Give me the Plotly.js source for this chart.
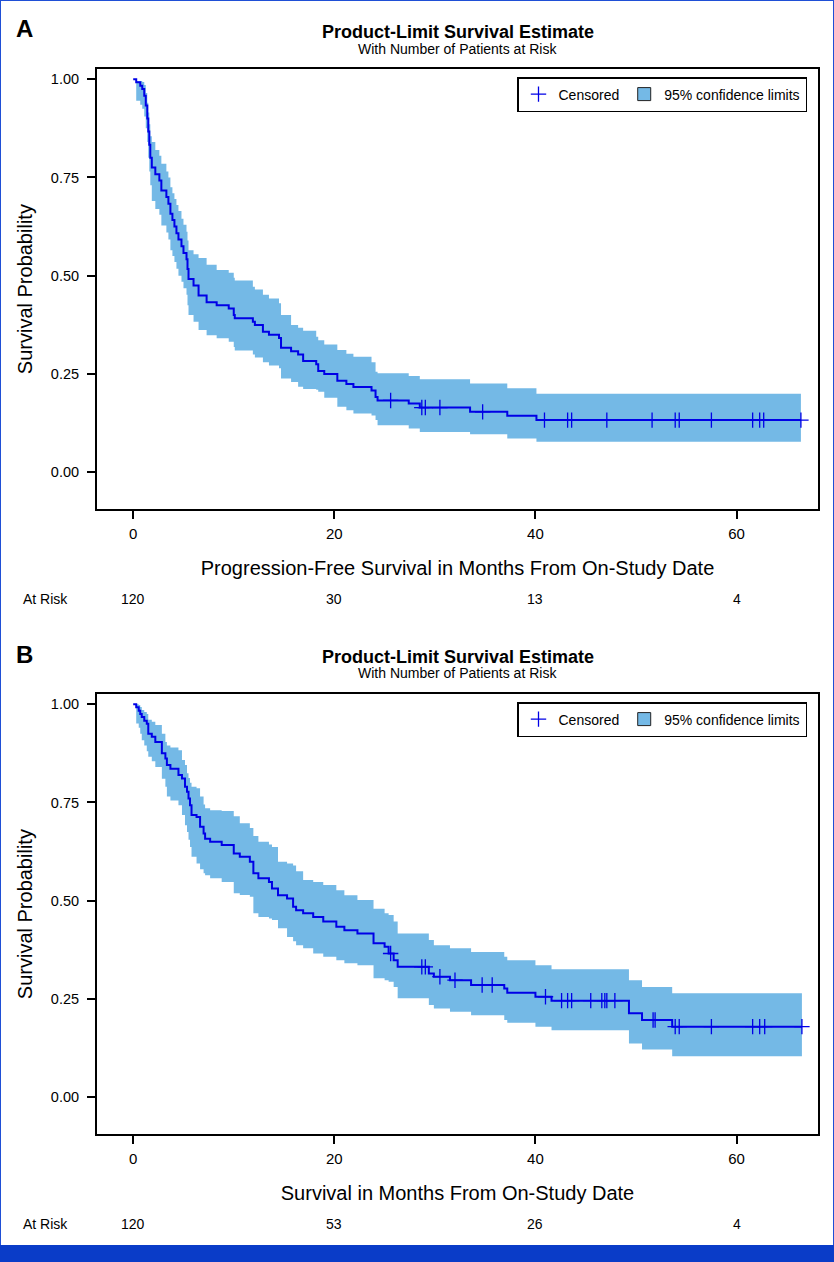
<!DOCTYPE html>
<html>
<head>
<meta charset="utf-8">
<script src="https://cdn.plot.ly/plotly-3.0.1.min.js"></script>
<style>
  body { margin: 0; padding: 0; background: #fff; }
  #chart { width: 834px; height: 1262px; }
</style>
</head>
<body>
<div id="chart"></div>
<script>
////////// panel A : progression-free survival (step times, estimate, 95% limits)
var tA = [0, 0.3, 0.7, 0.9, 1.1, 1.25, 1.4, 1.5, 1.6, 1.7, 1.85, 2.2, 2.6, 2.8, 3.3, 3.5, 3.7, 3.9, 4.1, 4.3,
  4.5, 4.8, 5.0, 5.3, 5.4, 5.5, 6.0, 6.5, 7.3, 8.3, 9.5, 10.0, 10.1, 11.9, 12.1, 12.9, 13.5, 14.5, 14.7, 15.7,
  16.4, 16.9, 18.2, 18.4, 19.0, 20.3, 21.2, 21.9, 23.7, 24.1, 24.3, 27.4, 28.5, 33.5, 37.2, 40.1]
var survA = [1.0, 0.992, 0.983, 0.975, 0.958, 0.933, 0.9, 0.867, 0.833, 0.8, 0.775, 0.758, 0.742, 0.717, 0.7,
  0.683, 0.658, 0.642, 0.625, 0.608, 0.592, 0.575, 0.558, 0.542, 0.517, 0.492, 0.475, 0.45, 0.433, 0.425,
  0.417, 0.4, 0.392, 0.383, 0.375, 0.358, 0.35, 0.342, 0.317, 0.308, 0.3, 0.283, 0.275, 0.258, 0.25,
  0.233, 0.225, 0.217, 0.208, 0.192, 0.183, 0.175, 0.165, 0.154, 0.144, 0.133]
var upA = [1.0, 0.995, 0.995, 0.993, 0.985, 0.965, 0.94, 0.915, 0.885, 0.855, 0.84, 0.82, 0.805, 0.785, 0.765,
  0.75, 0.725, 0.71, 0.695, 0.68, 0.665, 0.645, 0.63, 0.612, 0.59, 0.565, 0.555, 0.545, 0.528, 0.515,
  0.508, 0.495, 0.488, 0.472, 0.465, 0.452, 0.442, 0.43, 0.40, 0.375, 0.368, 0.36, 0.345, 0.336, 0.325,
  0.311, 0.302, 0.294, 0.28, 0.256, 0.252, 0.245, 0.237, 0.226, 0.214, 0.20]
var lowA = [1.0, 0.945, 0.935, 0.925, 0.905, 0.875, 0.84, 0.80, 0.765, 0.73, 0.69, 0.67, 0.655, 0.628, 0.61,
  0.592, 0.565, 0.55, 0.535, 0.518, 0.50, 0.485, 0.468, 0.452, 0.425, 0.40, 0.383, 0.362, 0.349, 0.341,
  0.332, 0.319, 0.31, 0.30, 0.292, 0.28, 0.272, 0.265, 0.239, 0.23, 0.218, 0.212, 0.21, 0.205, 0.19,
  0.167, 0.158, 0.15, 0.145, 0.133, 0.12, 0.112, 0.103, 0.097, 0.086, 0.078]
var endA = 66.4
var censA = [25.6, 28.7, 29.05, 30.5, 34.75, 40.9, 43.2, 43.6, 47.1, 51.6, 53.9, 54.3, 57.5, 61.6, 62.3, 62.7, 66.4]

////////// panel B : overall survival
var tB = [0, 0.3, 0.55, 0.7, 0.85, 1.1, 1.35, 1.5, 1.85, 2.2, 2.85, 3.2, 3.35, 3.7, 4.5, 4.85, 5.15, 5.35, 5.5, 5.65,
  5.8, 6.3, 6.65, 7.0, 7.15, 7.65, 8.8, 10.0, 10.6, 11.6, 11.95, 12.45, 13.5, 13.8, 14.4, 15.3, 15.9, 16.2, 16.9, 17.9,
  18.9, 20.2, 21.0, 22.3, 23.9, 25.0, 25.4, 25.9, 26.3, 29.4, 29.9, 31.5, 33.6, 36.9, 37.2, 40.0, 41.6, 49.3, 50.6, 53.6]
var survB = [1.0, 0.992, 0.983, 0.975, 0.967, 0.958, 0.95, 0.925, 0.917, 0.904, 0.875, 0.862, 0.845, 0.836, 0.82,
  0.811, 0.79, 0.777, 0.76, 0.743, 0.718, 0.713, 0.688, 0.671, 0.658, 0.65, 0.642, 0.62, 0.612, 0.599,
  0.57, 0.557, 0.548, 0.531, 0.514, 0.506, 0.485, 0.476, 0.468, 0.459, 0.447, 0.434, 0.425, 0.417, 0.392,
  0.383, 0.366, 0.349, 0.332, 0.315, 0.307, 0.298, 0.286, 0.277, 0.266, 0.256, 0.246, 0.214, 0.197, 0.18]
var upB = [1.0, 1.0, 0.998, 0.993, 0.985, 0.98, 0.975, 0.96, 0.955, 0.947, 0.925, 0.904, 0.895, 0.89, 0.883,
  0.858, 0.845, 0.824, 0.812, 0.80, 0.79, 0.786, 0.765, 0.745, 0.735, 0.73, 0.728, 0.715, 0.697, 0.685,
  0.665, 0.65, 0.643, 0.637, 0.599, 0.595, 0.59, 0.575, 0.553, 0.548, 0.54, 0.527, 0.514, 0.502, 0.48,
  0.468, 0.464, 0.447, 0.417, 0.40, 0.387, 0.379, 0.37, 0.358, 0.349, 0.336, 0.326, 0.298, 0.281, 0.265]
var lowB = [1.0, 0.951, 0.94, 0.925, 0.908, 0.895, 0.88, 0.866, 0.855, 0.84, 0.81, 0.79, 0.765, 0.755, 0.743,
  0.718, 0.692, 0.675, 0.655, 0.637, 0.612, 0.595, 0.58, 0.57, 0.565, 0.557, 0.548, 0.519, 0.515, 0.51,
  0.468, 0.459, 0.455, 0.451, 0.43, 0.408, 0.397, 0.387, 0.379, 0.366, 0.358, 0.349, 0.341, 0.336, 0.303,
  0.298, 0.294, 0.281, 0.252, 0.235, 0.226, 0.218, 0.209, 0.197, 0.19, 0.18, 0.171, 0.137, 0.122, 0.105]
var endB = 66.5
var censB = [25.6, 28.7, 29.05, 30.5, 32.0, 34.7, 35.7, 41.0, 42.6, 43.2, 43.6, 45.5, 46.6, 46.9, 47.1, 47.9,
  51.7, 51.9, 53.9, 54.3, 57.5, 61.6, 62.3, 62.8, 66.5]

////////// number at risk
var riskTimes = [0, 20, 40, 60]
var riskA = [120, 30, 13, 4]
var riskB = [120, 53, 26, 4]

var FONT = 'Liberation Sans, Arial, Helvetica, sans-serif'
var BAND = '#74b9e6'
var LINE = '#0000e6'

// value of a step curve at time t
function stepAt(t, times, vals) {
  var v = vals[0]
  for (var i = 0; i < times.length; i++) {
    if (times[i] <= t) { v = vals[i] }
  }
  return v
}

function panel(times, surv, low, up, end, cens, xa, ya, leg) {
  var xs = times.concat([end])
  var last = times.length - 1
  var s = surv.concat([surv[last]])
  var lo = low.concat([low[last]])
  var hi = up.concat([up[last]])
  var cy = cens.map(function (c) { return stepAt(c, times, surv) })
  return [
    { x: xs, y: hi, xaxis: xa, yaxis: ya, mode: 'lines', line: { width: 0, shape: 'hv' },
      showlegend: false, hoverinfo: 'skip' },
    { x: xs, y: lo, xaxis: xa, yaxis: ya, mode: 'lines', line: { width: 0, shape: 'hv' },
      fill: 'tonexty', fillcolor: BAND, showlegend: false, hoverinfo: 'skip' },
    { x: xs, y: s, xaxis: xa, yaxis: ya, mode: 'lines', line: { color: LINE, width: 2, shape: 'hv' },
      showlegend: false },
    { x: cens, y: cy, xaxis: xa, yaxis: ya, mode: 'markers', name: 'Censored', legend: leg,
      marker: { symbol: 'cross-thin', size: 11, line: { color: LINE, width: 1.3 } } },
    { x: [null], y: [null], xaxis: xa, yaxis: ya, mode: 'markers', name: '95% confidence limits', legend: leg,
      marker: { symbol: 'square', size: 13, color: BAND, line: { color: '#222', width: 1 } } }
  ]
}

var data = panel(tA, survA, lowA, upA, endA, censA, 'x', 'y', 'legend')
  .concat(panel(tB, survB, lowB, upB, endB, censB, 'x2', 'y2', 'legend2'))

////////// axes
var H = 1262, W = 834
function py(p) { return 1 - p / H }

function xax(title, anchor) {
  return {
    domain: [97 / W, 818 / W], range: [-3.6, 68.1], anchor: anchor,
    tickvals: riskTimes, ticks: 'outside', ticklen: 8, tickwidth: 2, tickcolor: '#000',
    showline: true, linecolor: '#000', linewidth: 2, mirror: true,
    showgrid: false, zeroline: false, ticklabelstandoff: 2,
    tickfont: { family: FONT, size: 15, color: '#000' },
    title: { text: title, font: { family: FONT, size: 20, color: '#000' }, standoff: 20 }
  }
}
function yax(top, bottom, anchor) {
  return {
    domain: [py(bottom), py(top)], range: [-0.093, 1.025], anchor: anchor,
    tickvals: [0, 0.25, 0.5, 0.75, 1], tickformat: '.2f',
    ticks: 'outside', ticklen: 8, tickwidth: 2, tickcolor: '#000',
    showline: true, linecolor: '#000', linewidth: 2, mirror: true,
    showgrid: false, zeroline: false, ticklabelstandoff: 5,
    tickfont: { family: FONT, size: 14.5, color: '#000' },
    title: { text: 'Survival Probability', font: { family: FONT, size: 20, color: '#000' }, standoff: 13 }
  }
}

function legendAt(top) {
  return {
    orientation: 'h', x: 807 / W, xanchor: 'right', y: py(top), yanchor: 'top',
    traceorder: 'normal',
    bgcolor: '#fff', bordercolor: '#000', borderwidth: 1.5,
    font: { family: FONT, size: 14, color: '#000' }, itemwidth: 30
  }
}

////////// text around the panels
var ann = []
function txt(x, y, text, size, xref) {
  ann.push({ x: x, y: y, xref: xref || 'paper', yref: 'paper', text: text, showarrow: false,
    xanchor: 'center', yanchor: 'middle', font: { family: FONT, size: size, color: '#000' } })
}
var mid = (97 + 818) / 2 / W
txt(24 / W, py(28), '<b>A</b>', 24)
txt(mid, py(31.7), '<b>Product-Limit Survival Estimate</b>', 18)
txt(mid, py(49), 'With Number of Patients at Risk', 14)
txt(45 / W, py(599), 'At Risk', 14)
for (var i = 0; i < riskTimes.length; i++) { txt(riskTimes[i], py(599), String(riskA[i]), 14, 'x') }

txt(24 / W, py(654), '<b>B</b>', 24)
txt(mid, py(656.7), '<b>Product-Limit Survival Estimate</b>', 18)
txt(mid, py(673), 'With Number of Patients at Risk', 14)
txt(45 / W, py(1224), 'At Risk', 14)
for (var i = 0; i < riskTimes.length; i++) { txt(riskTimes[i], py(1224), String(riskB[i]), 14, 'x2') }

////////// page frame and bottom bar
var shapes = [
  { type: 'rect', xref: 'paper', yref: 'paper', x0: 0, x1: 1, y0: 0, y1: 1,
    line: { color: '#1f4fd6', width: 2 } },
  { type: 'rect', xref: 'paper', yref: 'paper', x0: 0, x1: 1, y0: 0, y1: 17 / H,
    fillcolor: '#0a3cc8', line: { width: 0 } }
]

var layout = {
  width: W, height: H,
  margin: { l: 0, r: 0, t: 0, b: 0 },
  paper_bgcolor: '#fff', plot_bgcolor: '#fff',
  font: { family: FONT, color: '#000' },
  xaxis: xax('Progression-Free Survival in Months From On-Study Date', 'y'),
  yaxis: yax(69.3, 509, 'x'),
  xaxis2: xax('Survival in Months From On-Study Date', 'y2'),
  yaxis2: yax(694.3, 1134, 'x2'),
  legend: legendAt(77),
  legend2: legendAt(702),
  annotations: ann,
  shapes: shapes
}

Plotly.newPlot('chart', data, layout, { displayModeBar: false, staticPlot: true })
</script>
</body>
</html>
